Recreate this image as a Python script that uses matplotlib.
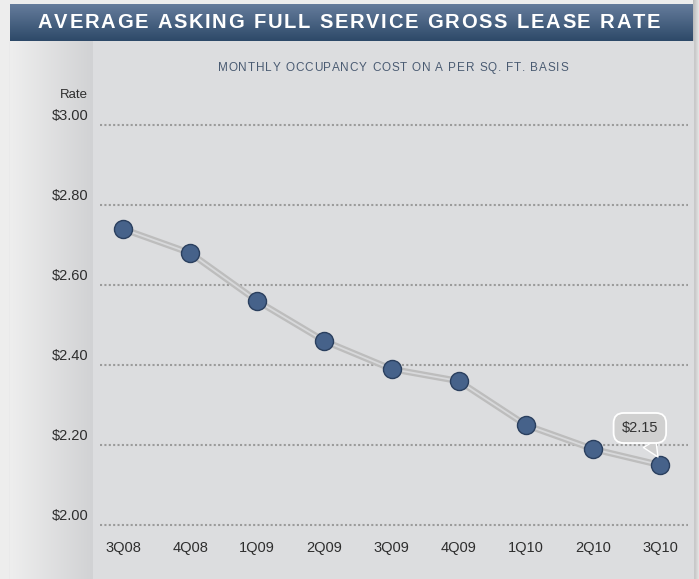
import numpy as np
import matplotlib
matplotlib.use('Agg')
import matplotlib.pyplot as plt
from matplotlib.colors import LinearSegmentedColormap

# datos del grafico
quarters = ['3Q08', '4Q08', '1Q09', '2Q09', '3Q09', '4Q09', '1Q10', '2Q10', '3Q10']
rates = [2.74, 2.68, 2.56, 2.46, 2.39, 2.36, 2.25, 2.19, 2.15]
y_ticks = [2.00, 2.20, 2.40, 2.60, 2.80, 3.00]
y_labels = ['$2.00', '$2.20', '$2.40', '$2.60', '$2.80', '$3.00']
title = 'AVERAGE ASKING FULL SERVICE GROSS LEASE RATE'
subtitle = 'MONTHLY OCCUPANCY COST ON A PER SQ. FT. BASIS'
callout = '$2.15'

W, H = 699, 579
fam = ['Liberation Sans', 'DejaVu Sans']

fig = plt.figure(figsize=(W / 100, H / 100), dpi=100, facecolor='#ededed')

# fondo en coordenadas de pixel
bg = fig.add_axes([0, 0, 1, 1])
bg.set_xlim(0, W)
bg.set_ylim(H, 0)
bg.axis('off')

def grad(ax, x0, x1, y0, y1, c0, c1, vertical=False):
    cmap = LinearSegmentedColormap.from_list('g', [c0, c1])
    g = np.linspace(0, 1, 256)
    g = g.reshape(-1, 1) if vertical else g.reshape(1, -1)
    ax.imshow(g, cmap=cmap, extent=(x0, x1, y1, y0), aspect='auto',
              interpolation='bilinear', zorder=1)

# sombra derecha, panel, franja izquierda y banda del titulo
grad(bg, 693, 699, 0, H, '#b9b9b9', '#e6e6e6')
bg.add_patch(plt.Rectangle((10, 41), 683, H - 41, color='#dcdddf', zorder=1))
grad(bg, 10, 93, 41, H, '#eeeeee', '#d1d2d4')
grad(bg, 10, 693, 4, 41, '#657c9c', '#2d4968', vertical=True)
bg.set_xlim(0, W)
bg.set_ylim(H, 0)

def spaced(ax, s, cx, cy, width, **kw):
    # texto con espaciado entre letras, ajustado a un ancho
    r = fig.canvas.get_renderer()
    ts, ws = [], []
    for ch in s:
        t = ax.text(0, cy, ch, ha='left', va='center', **kw)
        ts.append(t)
        ws.append(t.get_window_extent(r).width if ch != ' ' else None)
    space_w = np.mean([w for w in ws if w]) * 0.45
    ws = [w if w else space_w for w in ws]
    gap = (width - sum(ws)) / (len(s) - 1)
    x = cx - width / 2
    for t, w in zip(ts, ws):
        t.set_x(x)
        x += w + gap

spaced(bg, title, 349, 23, 622, color='white', fontsize=14.5, fontweight='bold',
       family=fam, zorder=5)
spaced(bg, subtitle, 393, 68, 350, color='#4a5b72', fontsize=8.5,
       family=fam, zorder=5)

# ejes de datos
ax = fig.add_axes([93 / W, 0, (690 - 93) / W, 1 - 41 / H])
ax.patch.set_alpha(0)
for s in ax.spines.values():
    s.set_visible(False)
ax.set_xlim(-0.447, 8.447)
ax.set_ylim(2.0 - (579 - 525) / 400, 3.0 + (125 - 41) / 400)
ax.set_xticks([])
ax.set_yticks([])

for v, lab in zip(y_ticks, y_labels):
    ax.axhline(v, xmin=0.012, xmax=0.997, color='#9b9b9b', lw=1.5,
               ls=(0, (1, 1.1)), zorder=1)
    ax.text(-0.52, v + 0.004, lab, ha='right', va='bottom',
            fontsize=10.5, color='#2e2e2e', family=fam, clip_on=False)
ax.text(-0.52, 3.075, 'Rate', ha='right', va='center', fontsize=9.5,
        color='#2e2e2e', family=fam, clip_on=False)

x = np.arange(len(quarters))
for i, q in enumerate(quarters):
    ax.text(i, 1.943, q, ha='center', va='center', fontsize=10.5,
            color='#2e2e2e', family=fam)

ax.plot(x, rates, color='#bdbdbd', lw=4.6, zorder=2, solid_capstyle='round')
ax.plot(x, rates, color='#d8d9db', lw=1.3, zorder=3)
ax.plot(x, rates, ls='none', marker='o', ms=13, mfc='#46628a',
        mec='#2a3f5e', mew=1, zorder=4)

ax.annotate(callout, xy=(7.97, 2.17), xytext=(7.7, 2.2425),
            ha='center', va='center', fontsize=10.5, color='#333333',
            family=fam, zorder=6,
            bbox=dict(boxstyle='round,pad=0.55,rounding_size=0.7',
                      fc='#d0d0d0', ec='white', lw=1.3),
            arrowprops=dict(arrowstyle='wedge,tail_width=1.0', fc='#d0d0d0',
                            ec='white', lw=1.0, shrinkA=0, shrinkB=0))

fig.savefig('out.png', dpi=100, facecolor=fig.get_facecolor())
